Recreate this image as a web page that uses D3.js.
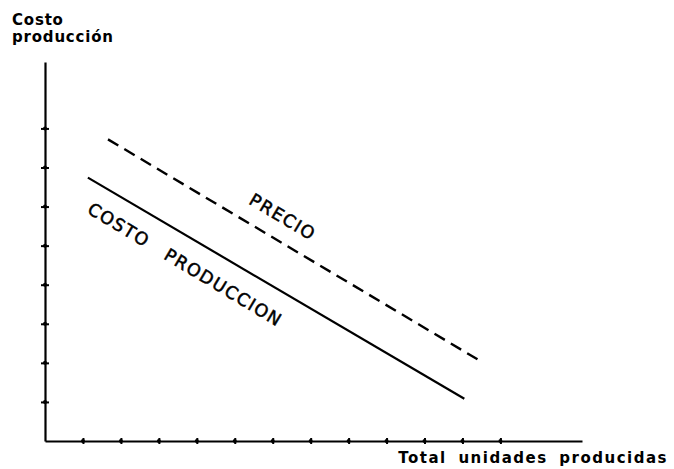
<!DOCTYPE html>
<html>
<head>
<meta charset="utf-8">
<script src="https://cdn.jsdelivr.net/npm/d3@7"></script>
<style>
  body { margin: 0; background: #fff; }
  svg { display: block; }
  text { font-family: "DejaVu Sans", sans-serif; fill: #000; }
</style>
</head>
<body>
<svg id="chart"></svg>
<script>
const width = 674, height = 469;
const margin = { top: 62, right: 92, bottom: 28, left: 45 };

// tick positions on each axis (unlabelled)
const xTicks = [1, 2, 3, 4, 5, 6, 7, 8, 9, 10, 11, 12];
const yTicks = [1, 2, 3, 4, 5, 6, 7, 8];

// line end points
const costoX = [1.13, 11.05];
const costoY = [6.74, 1.08];
const precioX = [1.66, 11.5];
const precioY = [7.72, 2.03];

const yTitle = ["Costo", "producción"];
const xTitle = "Total unidades producidas";
const costoLabel = "COSTO  PRODUCCION";
const precioLabel = "PRECIO";

const svg = d3.select("#chart").attr("width", width).attr("height", height);

const x = d3.scaleLinear().domain([0, 14.15]).range([margin.left, width - margin.right]);
const y = d3.scaleLinear().domain([0, 9.7]).range([height - margin.bottom, margin.top]);

const xAxis = svg.append("g")
    .attr("transform", `translate(0,${y(0)})`)
    .call(d3.axisBottom(x).tickValues(xTicks).tickSize(3).tickFormat("").tickSizeOuter(0));
xAxis.selectAll(".tick line").attr("y1", -3).attr("stroke-width", 2);
xAxis.select(".domain").attr("stroke-width", 2.2);

const yAxis = svg.append("g")
    .attr("transform", `translate(${x(0)},0)`)
    .call(d3.axisLeft(y).tickValues(yTicks).tickSize(4).tickFormat("").tickSizeOuter(0));
yAxis.selectAll(".tick line").attr("x1", 4).attr("stroke-width", 2);
yAxis.select(".domain").attr("stroke-width", 2.2);

// little dots where the ticks cross
svg.append("g").selectAll("circle").data(xTicks).join("circle")
    .attr("cx", d => x(d)).attr("cy", y(0)).attr("r", 2);
svg.append("g").selectAll("circle").data(yTicks).join("circle")
    .attr("cx", x(0)).attr("cy", d => y(d)).attr("r", 2);

const line = d3.line().x(d => x(d[0])).y(d => y(d[1]));

svg.append("path")
    .datum(d3.zip(costoX, costoY))
    .attr("d", line)
    .attr("fill", "none").attr("stroke", "#000").attr("stroke-width", 2.2);

svg.append("path")
    .datum(d3.zip(precioX, precioY))
    .attr("d", line)
    .attr("fill", "none").attr("stroke", "#000").attr("stroke-width", 2.4)
    .attr("stroke-dasharray", "12,7");

const angle = Math.atan2(y(costoY[1]) - y(costoY[0]), x(costoX[1]) - x(costoX[0])) * 180 / Math.PI + 0.5;

function slanted(label, cx, cy) {
  svg.append("text")
      .attr("transform", `translate(${x(cx)},${y(cy)}) rotate(${angle})`)
      .attr("text-anchor", "middle")
      .style("font-size", "17.5px")
      .style("letter-spacing", "1.5px")
      .style("word-spacing", "3px")
      .style("white-space", "pre")
      .attr("stroke", "#000").attr("stroke-width", 0.5)
      .text(label);
}
slanted(precioLabel, 6.18, 5.6);
slanted(costoLabel, 3.61, 4.38);

svg.append("text")
    .style("font-size", "15px").style("font-weight", "bold")
    .style("letter-spacing", "0.8px")
    .selectAll("tspan").data(yTitle).join("tspan")
    .attr("x", 12).attr("y", (_, i) => 25 + i * 17)
    .text(d => d);

svg.append("text")
    .attr("x", 668).attr("y", 463)
    .attr("text-anchor", "end")
    .style("font-size", "15px").style("font-weight", "bold")
    .style("letter-spacing", "1.5px")
    .style("word-spacing", "5px")
    .text(xTitle);
</script>
</body>
</html>
